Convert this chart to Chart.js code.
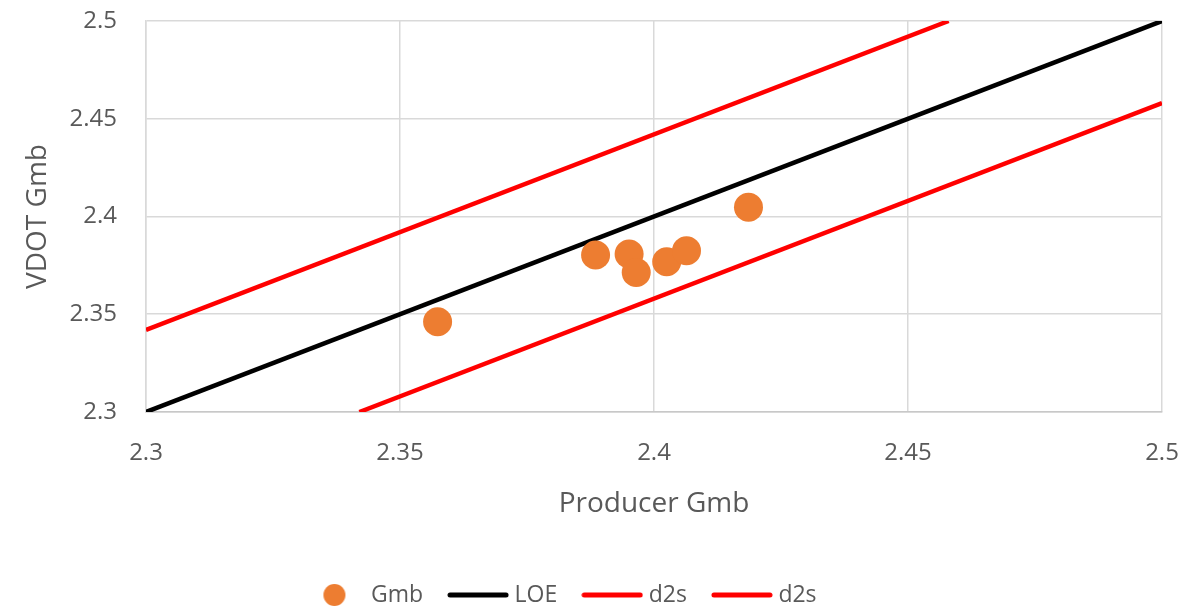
<!DOCTYPE html>
<html>
<head>
<meta charset="utf-8">
<script src="https://cdn.jsdelivr.net/npm/chart.js@4/dist/chart.umd.min.js"></script>
<style>
    html, body { margin: 0; padding: 0; background: #ffffff; }
    #wrap { width: 1203px; height: 609px; position: relative; }
</style>
</head>
<body>
<div id="wrap"><canvas id="gmbChart"></canvas></div>
<script>
const producerGmb = [2.3574, 2.3885, 2.3951, 2.3965, 2.4025, 2.4064, 2.4186]
const vdotGmb = [2.3462, 2.3803, 2.3808, 2.3713, 2.3769, 2.3825, 2.4047]

// line of equality and the d2s limits, as end points
const loeX = [2.3, 2.5]
const loeY = [2.3, 2.5]
const d2sUpperX = [2.3, 2.458]
const d2sUpperY = [2.342, 2.5]
const d2sLowerX = [2.342, 2.5]
const d2sLowerY = [2.3, 2.458]

const axisTicks = [2.3, 2.35, 2.4, 2.45, 2.5]

const toPoints = (xs, ys) => xs.map((x, i) => ({ x: x, y: ys[i] }))

// legend symbols drawn on small canvases
function circleSymbol(color) {
    const c = document.createElement("canvas")
    c.width = 24
    c.height = 24
    const g = c.getContext("2d")
    g.fillStyle = color
    g.beginPath()
    g.arc(12, 12, 11, 0, Math.PI * 2)
    g.fill()
    return c
}

function lineSymbol(color) {
    const c = document.createElement("canvas")
    c.width = 62
    c.height = 8
    const g = c.getContext("2d")
    g.strokeStyle = color
    g.lineWidth = 5
    g.lineCap = "round"
    g.beginPath()
    g.moveTo(3, 4)
    g.lineTo(59, 4)
    g.stroke()
    return c
}

const legendSymbols = [circleSymbol("#ED7D31"), lineSymbol("#000000"), lineSymbol("#FF0000"), lineSymbol("#FF0000")]

const textColor = "#595959"
const fontFamily = "'Open Sans', sans-serif"

const ctx = document.getElementById("gmbChart")

new Chart(ctx, {
    type: "scatter",
    data: {
        datasets: [
            {
                label: "Gmb",
                data: toPoints(producerGmb, vdotGmb),
                backgroundColor: "#ED7D31",
                borderColor: "#ED7D31",
                pointRadius: 14.5,
                pointHoverRadius: 14.5,
                borderWidth: 0
            },
            {
                label: "LOE",
                data: toPoints(loeX, loeY),
                showLine: true,
                borderColor: "#000000",
                borderWidth: 4.5,
                pointRadius: 0
            },
            {
                label: "d2s",
                data: toPoints(d2sUpperX, d2sUpperY),
                showLine: true,
                borderColor: "#FF0000",
                borderWidth: 4.5,
                pointRadius: 0
            },
            {
                label: "d2s",
                data: toPoints(d2sLowerX, d2sLowerY),
                showLine: true,
                borderColor: "#FF0000",
                borderWidth: 4.5,
                pointRadius: 0
            }
        ]
    },
    options: {
        responsive: true,
        maintainAspectRatio: false,
        animation: false,
        layout: {
            padding: { left: -36, right: 41, top: 21, bottom: -7.5 }
        },
        plugins: {
            tooltip: { enabled: false },
            legend: {
                position: "bottom",
                labels: {
                    usePointStyle: true,
                    pointStyleWidth: 50,
                    padding: 30,
                    color: textColor,
                    font: { family: fontFamily, size: 23 },
                    generateLabels: chart => {
                        const items = Chart.defaults.plugins.legend.labels.generateLabels(chart)
                        items.forEach((item, i) => { item.pointStyle = legendSymbols[i] })
                        return items
                    }
                }
            }
        },
        scales: {
            x: {
                type: "linear",
                min: 2.3,
                max: 2.5,
                afterBuildTicks: axis => { axis.ticks = axisTicks.map(v => ({ value: v })) },
                afterFit: axis => {
                    axis.height = 141.5
                    axis.paddingLeft = 0
                    axis.paddingRight = 0
                },
                ticks: {
                    color: textColor,
                    padding: 27,
                    font: { family: fontFamily, size: 24 },
                    callback: v => String(+v.toFixed(2))
                },
                grid: { color: "#d9d9d9", lineWidth: 1.5, drawTicks: false },
                border: { color: "#c8c8c8", width: 1.5 },
                title: {
                    display: true,
                    text: "Producer Gmb",
                    color: textColor,
                    font: { family: fontFamily, size: 28 },
                    padding: { top: 0, bottom: 33 }
                }
            },
            y: {
                type: "linear",
                min: 2.3,
                max: 2.5,
                afterBuildTicks: axis => { axis.ticks = axisTicks.map(v => ({ value: v })) },
                afterFit: axis => {
                    axis.width = 182
                    axis.paddingTop = 0
                    axis.paddingBottom = 0
                },
                ticks: {
                    color: textColor,
                    padding: 29,
                    font: { family: fontFamily, size: 24 },
                    callback: v => String(+v.toFixed(2))
                },
                grid: { color: "#d9d9d9", lineWidth: 1.5, drawTicks: false },
                border: { color: "#d9d9d9", width: 1.5 },
                title: {
                    display: true,
                    text: "VDOT Gmb",
                    color: textColor,
                    font: { family: fontFamily, size: 28 },
                    padding: { top: 57, bottom: 0 }
                }
            }
        }
    }
})
</script>
</body>
</html>
